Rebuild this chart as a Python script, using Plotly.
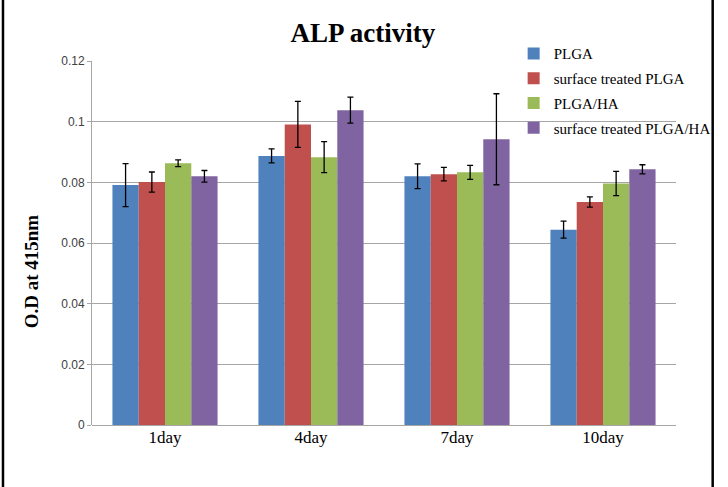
import plotly.graph_objects as go

categories = ["1day", "4day", "7day", "10day"]
series_names = ["PLGA", "surface treated PLGA", "PLGA/HA", "surface treated PLGA/HA"]
plga = [0.0791, 0.0887, 0.0820, 0.0644]
plga_err = [0.0071, 0.0023, 0.0041, 0.0028]
st_plga = [0.0801, 0.0991, 0.0827, 0.0735]
st_plga_err = [0.0033, 0.0076, 0.0022, 0.0017]
plga_ha = [0.0863, 0.0883, 0.0833, 0.0796]
plga_ha_err = [0.0011, 0.0051, 0.0023, 0.0040]
st_plga_ha = [0.0820, 0.1038, 0.0942, 0.0843]
st_plga_ha_err = [0.0019, 0.0043, 0.0150, 0.0015]
y_ticks = [0, 0.02, 0.04, 0.06, 0.08, 0.1, 0.12]
y_tick_labels = ["0", "0.02", "0.04", "0.06", "0.08", "0.1", "0.12"]

colors = ["#4F81BD", "#C0504D", "#9BBB59", "#8064A2"]
values = [plga, st_plga, plga_ha, st_plga_ha]
errors = [plga_err, st_plga_err, plga_ha_err, st_plga_ha_err]

W, H = 728, 487
L, R, T, B = 92, 39, 61, 62
PW, PH = W - L - R, H - T - B

fig = go.Figure()
for name, vals, errs, col in zip(series_names, values, errors, colors):
    fig.add_trace(go.Bar(
        x=categories, y=vals, name=name, legendgroup=name,
        marker=dict(color=col, line=dict(width=0)),
        error_y=dict(type="data", array=errs, visible=True,
                     color="black", thickness=1.3, width=3),
    ))

fig.update_layout(
    width=W, height=H, autosize=False,
    paper_bgcolor="white", plot_bgcolor="white",
    margin=dict(l=L, r=R, t=T, b=B),
    barmode="group", bargap=0.28, bargroupgap=0,
    title=dict(text="<b>ALP activity</b>", x=(369 - L) / PW, xref="paper", xanchor="center",
               y=1 - 33 / H, yref="container", yanchor="middle",
               font=dict(family="Liberation Serif", size=27, color="black")),
    legend=dict(x=0.722, y=1.065, xanchor="left", yanchor="top",
                bgcolor="rgba(0,0,0,0)", tracegroupgap=2.2,
                font=dict(family="Liberation Serif", size=15, color="black")),
    xaxis=dict(showline=False, ticks="", showgrid=False, automargin=False,
               tickfont=dict(family="Liberation Serif", size=17, color="black")),
    yaxis=dict(range=[0, 0.12], tickvals=y_ticks, ticktext=y_tick_labels,
               automargin=False,
               showgrid=True, gridcolor="#A6A6A6", gridwidth=1,
               showline=True, linecolor="#A6A6A6", linewidth=1,
               zeroline=True, zerolinecolor="#A6A6A6", zerolinewidth=1,
               ticks="outside", ticklen=4, tickcolor="#A6A6A6",
               tickfont=dict(family="Liberation Sans", size=12, color="#404040")),
    showlegend=True,
)

# y-axis title placed as rotated annotation
fig.add_annotation(text="<b>O.D at 415nm</b>", textangle=-90,
                   xref="paper", yref="paper",
                   x=(30 - L) / PW, y=(H - B - 271) / PH,
                   xanchor="center", yanchor="middle", showarrow=False,
                   font=dict(family="Liberation Serif", size=19, color="black"))

# outer frame lines of the image (left and right)
for px in (1, 726.5):
    fig.add_shape(type="line", xref="paper", yref="paper",
                  x0=(px - L) / PW, x1=(px - L) / PW, y0=-B / PH, y1=1 + T / PH,
                  line=dict(color="black", width=2.5), layer="above")

fig.write_html("out.html",
               config={"displayModeBar": False, "responsive": False},
               post_script="document.body.style.margin='0';document.body.style.padding='0';"
                           "document.body.style.overflow='hidden';"
                           "document.documentElement.style.overflow='hidden';")
